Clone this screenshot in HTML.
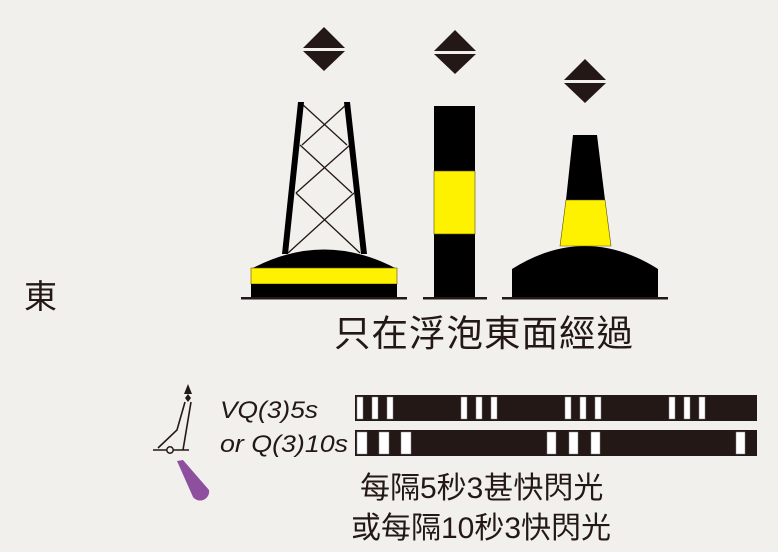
<!DOCTYPE html>
<html><head><meta charset="utf-8"><style>
html,body{margin:0;padding:0;background:#f2f0ec;}
svg{display:block}
text{font-family:"Liberation Sans","Noto Sans CJK TC",sans-serif;fill:#231815}
</style></head><body>
<svg width="778" height="552" viewBox="0 0 778 552" xmlns="http://www.w3.org/2000/svg">
<rect width="778" height="552" fill="#f2f0ec"/>
<g fill="#231815">
<polygon points="303,48 324,27 345,48"/><polygon points="303,51 324,71 345,51"/>
<polygon points="434,51 455,30 476,51"/><polygon points="434,54 455,74 476,54"/>
<polygon points="564,80 585,59 606,80"/><polygon points="564,83 585,103 606,83"/>
</g>
<g stroke="#231815" stroke-width="1.3" fill="none">
<line x1="302" y1="104" x2="347" y2="145"/><line x1="347" y1="104" x2="302" y2="145"/>
<line x1="300" y1="145" x2="352" y2="193"/><line x1="350" y1="145" x2="296" y2="193"/>
<line x1="296" y1="193" x2="360" y2="253"/><line x1="354" y1="193" x2="288" y2="253"/>
</g>
<polygon points="298,102 304,102 288,254 282,254" fill="#000"/>
<polygon points="344,102 350,102 367,254 361,254" fill="#000"/>
<path d="M251,269 Q324,230 397,269 Z" fill="#000"/>
<rect x="251" y="268" width="146" height="16" fill="#fff200" stroke="#5a5000" stroke-width="0.6"/>
<rect x="251" y="284" width="146" height="14" fill="#000"/>
<rect x="241" y="297" width="166" height="2.5" fill="#231815"/>
<rect x="434" y="106" width="41" height="192" fill="#000"/>
<rect x="434" y="171" width="41" height="63" fill="#fff200" stroke="#5a5000" stroke-width="0.6"/>
<rect x="423" y="297" width="64" height="2.5" fill="#231815"/>
<path d="M512,269 Q585,223 658,269 L658,298 L512,298 Z" fill="#000"/>
<polygon points="573,135 597,135 605,200 566,200" fill="#000"/>
<polygon points="566,200 605,200 611,246 560,246" fill="#fff200" stroke="#5a5000" stroke-width="0.6"/>
<rect x="502" y="297" width="166" height="2.5" fill="#231815"/>
<text x="24" y="308" font-size="33">東</text>
<text x="334" y="346" font-size="36.5" letter-spacing="1">只在浮泡東面經過</text>
<text x="360" y="498" font-size="30">每隔5秒3甚快閃光</text>
<text x="351" y="538" font-size="30">或每隔10秒3快閃光</text>
<text x="220" y="418" font-size="24.5" font-style="italic" textLength="98" lengthAdjust="spacingAndGlyphs">VQ(3)5s</text>
<text x="220" y="452" font-size="24.5" font-style="italic" textLength="128" lengthAdjust="spacingAndGlyphs">or Q(3)10s</text>
<polygon points="188,384 184,394 192,394" fill="#231815"/>
<polygon points="188,394 185,398 188,402 191,398" fill="#231815"/>
<g stroke="#231815" stroke-width="1.6" fill="none">
<polyline points="185,402 177,430 158,448"/>
<polyline points="191,402 183,450"/>
<line x1="153" y1="450" x2="189" y2="450"/>
</g>
<circle cx="170" cy="450" r="3.2" fill="#f2f0ec" stroke="#231815" stroke-width="1.5"/>
<path d="M177,461 L183,460 L209,490 A9,9 0 0 1 193,497 Z" fill="#8e4f9e"/>
<rect x="355" y="395" width="402" height="26" fill="#231815"/>
<g fill="#fff" stroke="#888" stroke-width="0.5">
<rect x="357" y="397" width="6" height="22"/><rect x="372" y="397" width="6" height="22"/><rect x="387" y="397" width="6" height="22"/>
<rect x="461" y="397" width="6" height="22"/><rect x="476" y="397" width="6" height="22"/><rect x="491" y="397" width="6" height="22"/>
<rect x="565" y="397" width="6" height="22"/><rect x="580" y="397" width="6" height="22"/><rect x="595" y="397" width="6" height="22"/>
<rect x="669" y="397" width="6" height="22"/><rect x="684" y="397" width="6" height="22"/><rect x="699" y="397" width="6" height="22"/>
</g>
<rect x="355" y="430" width="402" height="26" fill="#231815"/>
<g fill="#fff" stroke="#888" stroke-width="0.5">
<rect x="357" y="432" width="10" height="22"/><rect x="379" y="432" width="10" height="22"/><rect x="401" y="432" width="10" height="22"/>
<rect x="547" y="432" width="9" height="22"/><rect x="569" y="432" width="9" height="22"/><rect x="591" y="432" width="9" height="22"/>
<rect x="736" y="432" width="9" height="22"/>
</g>
</svg>
</body></html>
